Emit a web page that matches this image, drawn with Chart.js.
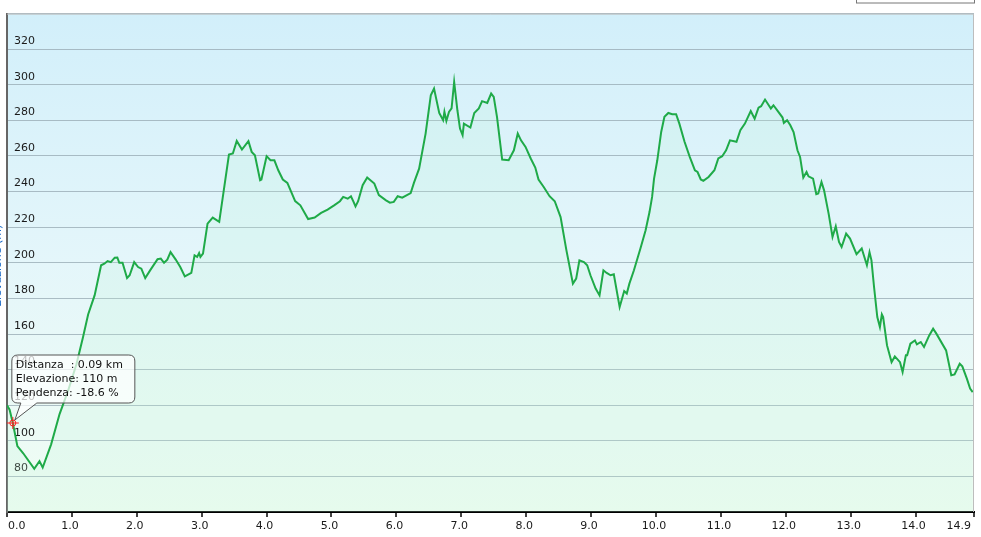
<!DOCTYPE html>
<html lang="it">
<head>
<meta charset="UTF-8">
<title>Profilo altimetrico</title>
<script src="https://cdn.jsdelivr.net/npm/chart.js"></script>
<style>
  body { margin: 0; background: #fff; }
  #wrap { width: 981px; height: 537px; }
</style>
</head>
<body>
<div id="wrap"><canvas id="profilo" width="981" height="537"></canvas></div>
<script>
var distKm = [0.00, 0.04, 0.09, 0.16, 0.25, 0.42, 0.50, 0.55, 0.68, 0.81, 0.94, 1.07, 1.17, 1.25, 1.35, 1.45, 1.50, 1.55, 1.60, 1.66,
  1.70, 1.73, 1.78, 1.85, 1.89, 1.96, 2.02, 2.07, 2.13, 2.21, 2.32, 2.37, 2.42, 2.47, 2.52, 2.60, 2.67, 2.74, 2.84, 2.89,
  2.93, 2.96, 2.98, 3.02, 3.09, 3.17, 3.27, 3.42, 3.48, 3.54, 3.62, 3.72, 3.77, 3.82, 3.90, 3.92, 4.00, 4.06, 4.12, 4.18,
  4.25, 4.32, 4.44, 4.52, 4.64, 4.74, 4.84, 4.94, 5.04, 5.13, 5.18, 5.25, 5.30, 5.34, 5.37, 5.41, 5.48, 5.55, 5.66, 5.73,
  5.84, 5.90, 5.96, 6.02, 6.09, 6.22, 6.27, 6.35, 6.45, 6.53, 6.58, 6.66, 6.72, 6.74, 6.77, 6.81, 6.85, 6.89, 6.94, 6.98,
  7.02, 7.04, 7.14, 7.20, 7.27, 7.32, 7.40, 7.46, 7.50, 7.55, 7.63, 7.73, 7.81, 7.87, 7.92, 7.99, 8.07, 8.14, 8.19, 8.27,
  8.36, 8.44, 8.53, 8.62, 8.72, 8.77, 8.82, 8.89, 8.94, 8.99, 9.07, 9.13, 9.19, 9.24, 9.30, 9.35, 9.44, 9.51, 9.55, 9.59,
  9.66, 9.76, 9.84, 9.90, 9.94, 9.97, 10.02, 10.08, 10.13, 10.19, 10.25, 10.31, 10.36, 10.44, 10.52, 10.60, 10.64, 10.69, 10.73, 10.81,
  10.90, 10.96, 11.02, 11.08, 11.14, 11.24, 11.30, 11.37, 11.46, 11.52, 11.58, 11.62, 11.68, 11.77, 11.81, 11.86, 11.95, 11.97, 12.02, 12.07,
  12.12, 12.18, 12.22, 12.27, 12.32, 12.35, 12.42, 12.47, 12.50, 12.55, 12.59, 12.66, 12.72, 12.77, 12.82, 12.86, 12.93, 12.99, 13.09, 13.17,
  13.25, 13.29, 13.32, 13.36, 13.41, 13.45, 13.48, 13.50, 13.56, 13.63, 13.68, 13.76, 13.80, 13.85, 13.87, 13.92, 13.99, 14.02, 14.08, 14.13,
  14.21, 14.27, 14.32, 14.47, 14.55, 14.60, 14.68, 14.72, 14.79, 14.84, 14.88];
var elevM = [120, 117.5, 110, 97, 93, 84.3, 88.6, 85, 98, 115, 128, 143, 158, 171, 181.7, 198.6, 199.5, 201, 200.4, 202.9,
  203, 200, 200, 191.4, 193, 200.4, 197.6, 196.7, 191.4, 196, 202, 202.4, 200, 201.8, 206, 201.8, 197.6, 192.4, 194.3, 204.2,
  203.3, 205.5, 203.3, 205.2, 222, 225.4, 223, 260.8, 261.4, 268.5, 263.6, 268.3, 262.3, 260.4, 246.4, 246.8, 259.9, 257.6, 257.6, 252,
  246.8, 244.9, 234.7, 232.3, 224.6, 225.4, 228, 229.9, 232.3, 234.6, 237, 236, 237.4, 234.2, 231.7, 234.6, 243.6, 247.9, 244.5, 238,
  235.1, 233.8, 234.2, 237.4, 236.6, 239.2, 244.9, 252.9, 272.6, 294.1, 297.9, 284.2, 280.1, 284.8, 279.7, 284.8, 286.7, 301.6, 285.7, 275.4,
  271.7, 278.2, 276, 284.2, 286.7, 290.8, 289.8, 295.1, 293.2, 282, 258, 257.6, 263.2, 272.6, 268.8, 265.1, 258.6, 253.5, 246.8, 242.6,
  237.4, 234.6, 225.7, 207, 188.3, 191.1, 201.4, 200.4, 198.6, 193, 185.5, 181.7, 195.8, 194.3, 193, 193.5, 175.1, 184.1, 182.7, 188.3,
  195.8, 208, 218.3, 228.5, 237, 247.3, 257.6, 273.5, 282, 284.2, 283.5, 283.5, 278.2, 268, 259.5, 252, 251, 246.8, 246, 248.2,
  252, 258.6, 259.9, 263.2, 268.8, 268, 274.5, 278.2, 285.3, 281, 287.2, 288, 291.7, 286.7, 288.5, 286.1, 281.6, 278.6, 280.1, 277.3,
  273.5, 263.2, 259.5, 247.9, 251, 248.6, 247.3, 238.5, 238.9, 245.4, 240.7, 227.6, 214.5, 220.5, 211.7, 208.9, 216.4, 213.6, 204.8, 208,
  198.6, 206, 201.4, 186.4, 169.5, 163.9, 171, 169.5, 153.6, 144.2, 147.4, 144.2, 138.6, 148, 148, 154.6, 156.4, 154.2, 155.5, 152.7,
  159.2, 163, 160.2, 150.8, 136.8, 137.3, 143.3, 141.8, 134.9, 129.3, 127.4];

var xTicks = [0, 1, 2, 3, 4, 5, 6, 7, 8, 9, 10, 11, 12, 13, 14, 14.9];
var yTicks = [80, 100, 120, 140, 160, 180, 200, 220, 240, 260, 280, 300, 320];
var yTitle = 'Elevazione (m)';

// punto evidenziato dal cursore
var hover = { dist: 0.09, elev: 110, slope: -18.6 };

var FONT = '11px "DejaVu Sans", Verdana, sans-serif';

var sfondo = {
    id: 'sfondo',
    beforeDraw: function (chart) {
        var c = chart.ctx, a = chart.chartArea;
        c.save();
        c.fillStyle = '#ffffff';
        c.fillRect(0, 0, chart.width, chart.height);
        var g = c.createLinearGradient(0, a.top, 0, a.bottom);
        g.addColorStop(0, '#d2effa');
        g.addColorStop(0.5, '#e4f6fa');
        g.addColorStop(1, '#f0fdf3');
        c.fillStyle = g;
        c.fillRect(a.left, a.top, a.right - a.left, a.bottom - a.top);
        c.restore();
    },
    afterDraw: function (chart) {
        var c = chart.ctx, a = chart.chartArea;
        var xs = chart.scales.x, ys = chart.scales.y;
        c.save();
        // bordo superiore e destro
        c.strokeStyle = '#bdbdbd';
        c.lineWidth = 1;
        c.beginPath();
        c.moveTo(a.left, a.top + 0.5);
        c.lineTo(a.right - 0.5, a.top + 0.5);
        c.lineTo(a.right - 0.5, a.bottom);
        c.stroke();

        // riquadro legenda (tagliato in alto)
        c.fillStyle = '#ffffff';
        c.fillRect(856, -10, 119, 13);
        c.strokeStyle = '#777';
        c.strokeRect(856.5, -10, 118, 13);

        // etichette asse x
        c.font = FONT;
        c.fillStyle = '#1a1a1a';
        c.textBaseline = 'middle';
        xTicks.forEach(function (v, i) {
            var px = xs.getPixelForValue(v);
            if (i === 0) { c.textAlign = 'left'; px += 1; }
            else if (i === xTicks.length - 1) { c.textAlign = 'right'; px -= 3; }
            else { c.textAlign = 'center'; px -= 2; }
            c.fillText(v.toFixed(1), px, a.bottom + 14);
        });

        // titolo asse y (quasi fuori dal riquadro)
        c.save();
        c.translate(1, (a.top + a.bottom) / 2 + 3);
        c.rotate(-Math.PI / 2);
        c.textAlign = 'center';
        c.textBaseline = 'alphabetic';
        c.fillStyle = '#1c6cc8';
        c.font = '11px "DejaVu Sans", Verdana, sans-serif';
        c.fillText(yTitle, 0, 0);
        c.restore();

        // marcatore del punto
        var px = xs.getPixelForValue(hover.dist), py = ys.getPixelForValue(hover.elev);
        c.strokeStyle = '#ff2020';
        c.lineWidth = 1;
        c.beginPath();
        c.arc(px, py, 3, 0, Math.PI * 2);
        c.moveTo(px - 6, py); c.lineTo(px + 6, py);
        c.moveTo(px, py - 6); c.lineTo(px, py + 6);
        c.stroke();

        // fumetto
        var bx = px - 1, by = py - 68, bw = 123, bh = 48, r = 6;
        c.beginPath();
        c.moveTo(bx + r, by);
        c.lineTo(bx + bw - r, by);
        c.quadraticCurveTo(bx + bw, by, bx + bw, by + r);
        c.lineTo(bx + bw, by + bh - r);
        c.quadraticCurveTo(bx + bw, by + bh, bx + bw - r, by + bh);
        c.lineTo(bx + 25, by + bh);
        c.lineTo(px + 2, py - 3);
        c.lineTo(bx + 9, by + bh);
        c.lineTo(bx + r, by + bh);
        c.quadraticCurveTo(bx, by + bh, bx, by + bh - r);
        c.lineTo(bx, by + r);
        c.quadraticCurveTo(bx, by, bx + r, by);
        c.closePath();
        c.fillStyle = 'rgba(255,255,255,0.72)';
        c.fill();
        c.strokeStyle = '#555';
        c.stroke();

        c.fillStyle = '#111';
        c.font = FONT;
        c.textAlign = 'left';
        c.textBaseline = 'middle';
        c.fillText('Distanza  : ' + hover.dist.toFixed(2) + ' km', bx + 4, by + 10);
        c.fillText('Elevazione: ' + hover.elev + ' m', bx + 4, by + 24);
        c.fillText('Pendenza: ' + hover.slope.toFixed(1) + ' %', bx + 4, by + 38);
        c.restore();
    }
};

var punti = distKm.map(function (d, i) { return { x: d, y: elevM[i] }; });

new Chart(document.getElementById('profilo').getContext('2d'), {
    type: 'line',
    data: {
        datasets: [{
            data: punti,
            borderColor: '#1faa48',
            borderWidth: 2,
            backgroundColor: 'rgba(190,245,215,0.2)',
            fill: 'start',
            tension: 0,
            pointRadius: 0
        }]
    },
    options: {
        responsive: false,
        animation: false,
        devicePixelRatio: 1,
        layout: { padding: { left: 7, right: 7, top: 13, bottom: 0 } },
        plugins: { legend: { display: false }, tooltip: { enabled: false } },
        scales: {
            x: {
                type: 'linear',
                min: 0,
                max: 14.9,
                afterBuildTicks: function (s) { s.ticks = xTicks.map(function (v) { return { value: v }; }); },
                afterFit: function (s) { s.height = 25; },
                ticks: { display: false },
                grid: { drawOnChartArea: false, drawTicks: true, tickLength: 5, color: '#444', lineWidth: 2 },
                border: { color: '#000', width: 2 }
            },
            y: {
                min: 60,
                max: 340,
                z: 1,
                afterFit: function (s) { s.width = 0; },
                ticks: {
                    stepSize: 20,
                    mirror: true,
                    padding: 7,
                    labelOffset: -8,
                    color: '#1a1a1a',
                    font: { family: '"DejaVu Sans", Verdana, sans-serif', size: 11 },
                    callback: function (v) { return yTicks.indexOf(v) >= 0 ? v : ''; }
                },
                grid: { color: 'rgba(150,168,178,0.75)', lineWidth: 1, drawTicks: false },
                border: { color: '#666', width: 2 }
            }
        }
    },
    plugins: [sfondo]
});
</script>
</body>
</html>
